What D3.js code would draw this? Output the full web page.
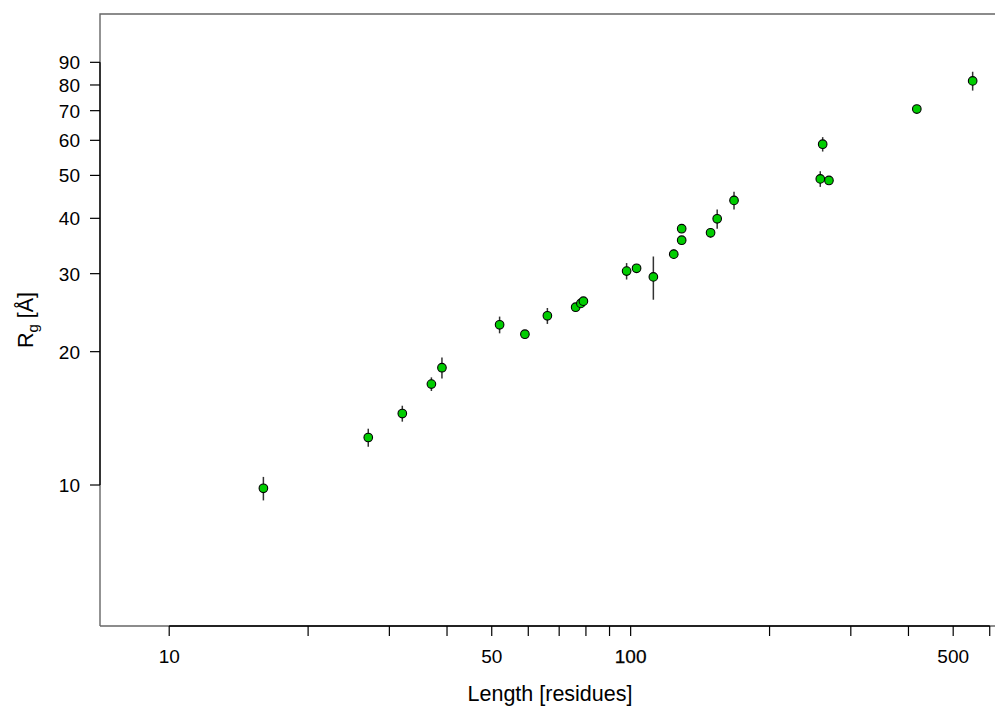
<!DOCTYPE html>
<html><head><meta charset="utf-8">
<script src="https://cdn.jsdelivr.net/npm/d3@7/dist/d3.min.js"></script>
<style>body{margin:0;background:#fff}svg{display:block}text{font-family:"Liberation Sans",Arial,sans-serif;fill:#000}</style>
</head><body>
<script>
// Data: chain length (residues), radius of gyration (Å), error (Å)
const lengths = [16, 27, 32, 37, 39, 52, 59, 66, 76, 78, 79, 98, 103, 112, 124, 129, 129, 149, 154, 167.5, 257.6, 260.7, 269, 417, 551];
const rg      = [9.83, 12.8, 14.5, 16.9, 18.4, 23.0, 21.9, 24.1, 25.2, 25.7, 26.0, 30.4, 30.85, 29.5, 33.2, 37.9, 35.7, 37.1, 39.9, 43.9, 49.1, 58.8, 48.7, 70.6, 81.7];
const rgErr   = [0.6, 0.6, 0.6, 0.6, 1.0, 1.0, 0.4, 1.0, 0.3, 0.3, 0.3, 1.3, 0.3, 3.3, 0.8, 0.7, 0.5, 0.9, 2.0, 2.0, 2.0, 2.2, 0.5, 0.4, 4.0];
const xTicks = [10, 20, 30, 40, 50, 60, 70, 80, 90, 100, 200, 300, 400, 500, 600];
const xTickLabels = [10, 50, 100, 500];
const yTicks = [10, 20, 30, 40, 50, 60, 70, 80, 90];

const W = 995, H = 709;
const L = 100, R = 995, T = 14, B = 626;
const svg = d3.select("body").append("svg").attr("width", W).attr("height", H);

const x = d3.scaleLog().domain([7.08, 616]).range([L, R]);
const y = d3.scaleLog().domain([4.805, 115.7]).range([B, T]);

// box (gray)
svg.append("path").attr("d", `M${L},${B}V${T}H${R+2}`).attr("fill","none").attr("stroke","#666").attr("stroke-width",1.4);
svg.append("line").attr("x1",L).attr("x2",R+2).attr("y1",B).attr("y2",B).attr("stroke","#666").attr("stroke-width",1.4);

// x axis
const xAxis = svg.append("g");
xAxis.append("line").attr("x1", x(xTicks[0])).attr("x2", x(xTicks[xTicks.length-1]))
  .attr("y1", B).attr("y2", B).attr("stroke", "#000").attr("stroke-width", 1.3);
xAxis.selectAll("line.t").data(xTicks).join("line").attr("class","t")
  .attr("x1", d => x(d)).attr("x2", d => x(d)).attr("y1", B).attr("y2", B + 10)
  .attr("stroke", "#000").attr("stroke-width", 1.2);
xAxis.selectAll("text").data(xTickLabels).join("text")
  .attr("x", d => x(d)).attr("y", B + 37).attr("text-anchor", "middle")
  .attr("font-size", 19).text(d => d)
  .attr("stroke", d => d === 100 ? "#000" : null).attr("stroke-width", d => d === 100 ? 0.25 : null);

// y axis
const yAxis = svg.append("g");
yAxis.append("line").attr("x1", L).attr("x2", L)
  .attr("y1", y(yTicks[0])).attr("y2", y(yTicks[yTicks.length-1])).attr("stroke", "#000").attr("stroke-width", 1.3);
yAxis.selectAll("line.t").data(yTicks).join("line").attr("class","t")
  .attr("x1", L - 10).attr("x2", L).attr("y1", d => y(d)).attr("y2", d => y(d))
  .attr("stroke", "#000").attr("stroke-width", 1.2);
yAxis.selectAll("text").data(yTicks).join("text")
  .attr("x", L - 20).attr("y", d => y(d) + 7).attr("text-anchor", "end")
  .attr("font-size", 19).text(d => d);

// titles
svg.append("text").attr("x", 550).attr("y", 701).attr("text-anchor", "middle")
  .attr("font-size", 21.5).text("Length [residues]");
const yl = svg.append("text").attr("transform", `translate(33,${(T+B)/2}) rotate(-90)`)
  .attr("text-anchor", "middle").attr("font-size", 21.5);
yl.append("tspan").text("R");
yl.append("tspan").attr("font-size", 15).attr("dy", 5).text("g");
yl.append("tspan").attr("dy", -5).text(" [Å]");

// data
const pts = lengths.map((d, i) => ({ n: d, r: rg[i], e: rgErr[i] }));
svg.append("g").selectAll("line").data(pts).join("line")
  .attr("x1", d => x(d.n)).attr("x2", d => x(d.n))
  .attr("y1", d => y(d.r + d.e)).attr("y2", d => y(d.r - d.e))
  .attr("stroke", "#333").attr("stroke-width", 1.5);
svg.append("g").selectAll("circle").data(pts).join("circle")
  .attr("cx", d => x(d.n)).attr("cy", d => y(d.r)).attr("r", 4.3)
  .attr("fill", "#00cd00").attr("stroke", "#000").attr("stroke-width", 1.1);
</script>
</body></html>
